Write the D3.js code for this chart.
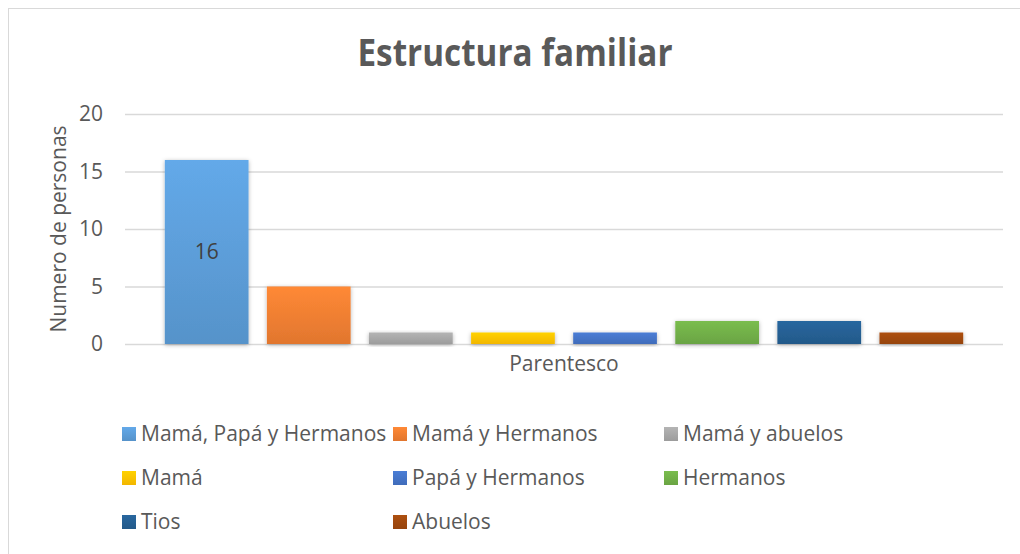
<!DOCTYPE html>
<html>
<head>
<meta charset="utf-8">
<script src="https://cdn.jsdelivr.net/npm/d3@7"></script>
<style>
  body { margin: 0; background: #fff; }
  text { font-family: "Open Sans", sans-serif; fill: #595959; }
</style>
</head>
<body>
<div class="container"></div>
<script>
const series = ['Mamá, Papá y Hermanos', 'Mamá y Hermanos', 'Mamá y abuelos', 'Mamá',
                'Papá y Hermanos', 'Hermanos', 'Tios', 'Abuelos'];
const values = [16, 5, 1, 1, 1, 2, 2, 1];
const colors = ['#5b9bd5', '#ed7d31', '#a5a5a5', '#ffc000', '#4472c4', '#70ad47', '#255e91', '#9e480e'];
const yTicks = [0, 5, 10, 15, 20];
const category = 'Parentesco';
const labelled = [0]; // only the first bar shows its value

const W = 1020, H = 554;
const plot = {left: 125, right: 1003, top: 114, bottom: 344};
const fs = '21px';

const svg = d3.select('.container')
    .append('svg')
    .attr('width', W)
    .attr('height', H);

const defs = svg.append('defs');
colors.forEach((c, i) => {
  const g = defs.append('linearGradient')
      .attr('id', 'grad' + i)
      .attr('x1', 0).attr('y1', 0).attr('x2', 0).attr('y2', 1);
  g.append('stop').attr('offset', '0%').attr('stop-color', d3.color(c).brighter(0.25));
  g.append('stop').attr('offset', '100%').attr('stop-color', d3.color(c).darker(0.15));
});
defs.append('filter')
    .attr('id', 'shadow')
    .attr('x', '-20%').attr('y', '-20%').attr('width', '140%').attr('height', '140%')
  .append('feDropShadow')
    .attr('dx', 0).attr('dy', 1)
    .attr('stdDeviation', 2)
    .attr('flood-color', '#000')
    .attr('flood-opacity', 0.3);

// chart frame
svg.append('rect')
    .attr('x', 8.5).attr('y', 8.5)
    .attr('width', W + 10).attr('height', H + 10)
    .attr('fill', 'none')
    .attr('stroke', '#d9d9d9');

svg.append('text')
    .attr('x', 515)
    .attr('y', 66)
    .attr('text-anchor', 'middle')
    .attr('textLength', 315)
    .attr('lengthAdjust', 'spacingAndGlyphs')
    .style('font-size', '37px')
    .style('font-weight', 'bold')
    .text('Estructura familiar');

const x = d3.scaleBand()
    .domain(series)
    .range([plot.left, plot.right])
    .paddingInner(0.18)
    .paddingOuter(0.39);

const y = d3.scaleLinear()
    .domain([0, 20])
    .range([plot.bottom, plot.top]);

// gridlines
svg.append('g')
    .attr('class', 'grid')
    .attr('transform', `translate(${plot.left},0)`)
    .call(d3.axisLeft(y).tickValues(yTicks).tickSize(-(plot.right - plot.left)).tickFormat(''))
    .call(g => g.select('.domain').remove())
    .call(g => g.selectAll('line').attr('stroke', '#d9d9d9').attr('stroke-width', 1.5));

// y tick labels
svg.append('g')
    .attr('class', 'y axis')
    .attr('transform', `translate(${plot.left},0)`)
    .call(d3.axisLeft(y).tickValues(yTicks).tickSize(0).tickPadding(22))
    .call(g => g.select('.domain').remove())
    .call(g => g.selectAll('text')
        .style('font-family', '"Open Sans", sans-serif')
        .style('font-size', fs)
        .attr('fill', '#595959'));

svg.append('g')
    .selectAll('rect')
    .data(values)
    .enter().append('rect')
    .attr('x', (d, i) => x(series[i]))
    .attr('width', x.bandwidth())
    .attr('y', d => y(d))
    .attr('height', d => y(0) - y(d))
    .attr('fill', (d, i) => `url(#grad${i})`)
    .attr('filter', 'url(#shadow)');

svg.append('g')
    .selectAll('text')
    .data(labelled)
    .enter().append('text')
    .attr('x', i => x(series[i]) + x.bandwidth() / 2)
    .attr('y', i => (y(values[i]) + y(0)) / 2 + 7)
    .attr('text-anchor', 'middle')
    .style('font-size', fs)
    .style('fill', '#404040')
    .text(i => values[i]);

svg.append('text')
    .attr('x', (plot.left + plot.right) / 2)
    .attr('y', 371)
    .attr('text-anchor', 'middle')
    .style('font-size', fs)
    .text(category);

svg.append('text')
    .attr('transform', 'translate(66,229) rotate(-90)')
    .attr('text-anchor', 'middle')
    .style('font-size', fs)
    .text('Numero de personas');

// legend: 3 columns
const legend = svg.append('g')
    .selectAll('g')
    .data(series)
    .enter().append('g')
    .attr('transform', (d, i) => `translate(${122 + (i % 3) * 271},${427 + Math.floor(i / 3) * 44})`);
legend.append('rect')
    .attr('width', 14)
    .attr('height', 14)
    .attr('fill', (d, i) => `url(#grad${i})`);
legend.append('text')
    .attr('x', 19)
    .attr('y', 14)
    .style('font-size', fs)
    .text(d => d);
</script>
</body>
</html>
